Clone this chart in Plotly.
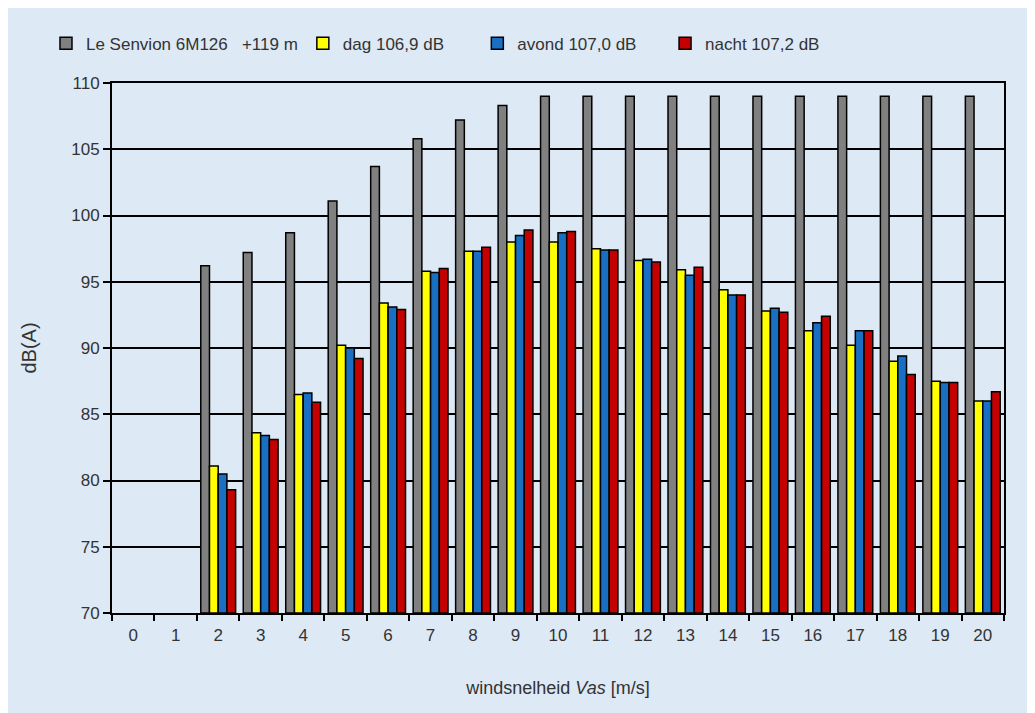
"""Geluidsniveau per windsnelheid - Senvion 6M126 (dag / avond / nacht)."""

import plotly.graph_objects as go

# windsnelheid categorieën (m/s)
windsnelheid = [str(v) for v in range(0, 21)]

# bronvermogen in dB(A); 0 en 1 m/s zonder waarde
senvion = [None, None, 96.2, 97.2, 98.7, 101.1, 103.7, 105.8, 107.2, 108.3,
           109.0, 109.0, 109.0, 109.0, 109.0, 109.0, 109.0, 109.0, 109.0, 109.0, 109.0]
dag = [None, None, 81.1, 83.6, 86.5, 90.2, 93.4, 95.8, 97.3, 98.0,
       98.0, 97.5, 96.6, 95.9, 94.4, 92.8, 91.3, 90.2, 89.0, 87.5, 86.0]
avond = [None, None, 80.5, 83.4, 86.6, 90.0, 93.1, 95.7, 97.3, 98.5,
         98.7, 97.4, 96.7, 95.5, 94.0, 93.0, 91.9, 91.3, 89.4, 87.4, 86.0]
nacht = [None, None, 79.3, 83.1, 85.9, 89.2, 92.9, 96.0, 97.6, 98.9,
         98.8, 97.4, 96.5, 96.1, 94.0, 92.7, 92.4, 91.3, 88.0, 87.4, 86.7]

SP = "\u00a0"
series = [
    (f"Le Senvion 6M126{SP*3}+119{SP}m", senvion, "#808080"),
    (f"dag 106,9 dB{SP*6}", dag, "#ffff00"),
    (f"avond 107,0 dB{SP*5}", avond, "#1a6fc2"),
    ("nacht 107,2 dB", nacht, "#c40000"),
]

BG = "#dde9f5"
FONT = "Liberation Sans Narrow, Liberation Sans, Arial, sans-serif"

fig = go.Figure()
for name, values, color in series:
    fig.add_trace(go.Bar(
        x=windsnelheid,
        y=[None if v is None else v - 70 for v in values],
        base=70,
        name=name,
        marker=dict(color=color, line=dict(color="#000000", width=1.5)),
        hovertemplate="%{x} m/s: %{customdata:.1f} dB(A)<extra></extra>",
        customdata=values,
    ))

fig.update_layout(
    width=1035,
    height=713,
    paper_bgcolor=BG,
    plot_bgcolor=BG,
    font=dict(family=FONT, size=17, color="#333333"),
    margin=dict(l=104, r=39, t=75, b=108),
    barmode="group",
    bargap=0.18,
    bargroupgap=0,
    legend=dict(
        orientation="h",
        x=-0.074, xanchor="left",
        y=1.074, yanchor="middle",
        bgcolor="rgba(0,0,0,0)",
        font=dict(size=17),
        itemwidth=30,
        traceorder="normal",
    ),
    xaxis=dict(
        type="category",
        tickson="boundaries",
        ticks="outside",
        ticklen=6,
        tickwidth=1.5,
        tickcolor="#000000",
        ticklabelstandoff=6,
        showline=True,
        linecolor="#000000",
        linewidth=2,
        mirror=True,
        showgrid=False,
        title=dict(text="windsnelheid <i>Vas</i> [m/s]", standoff=37, font=dict(size=18)),
    ),
    yaxis=dict(
        range=[70, 110],
        dtick=5,
        ticks="outside",
        ticklen=7,
        tickwidth=1.5,
        tickcolor="#000000",
        showline=True,
        linecolor="#000000",
        linewidth=2,
        mirror=True,
        showgrid=True,
        gridcolor="#000000",
        gridwidth=1.5,
        zeroline=False,
        title=dict(text="dB(A)", standoff=29),
    ),
)

fig.write_html("out.html")
